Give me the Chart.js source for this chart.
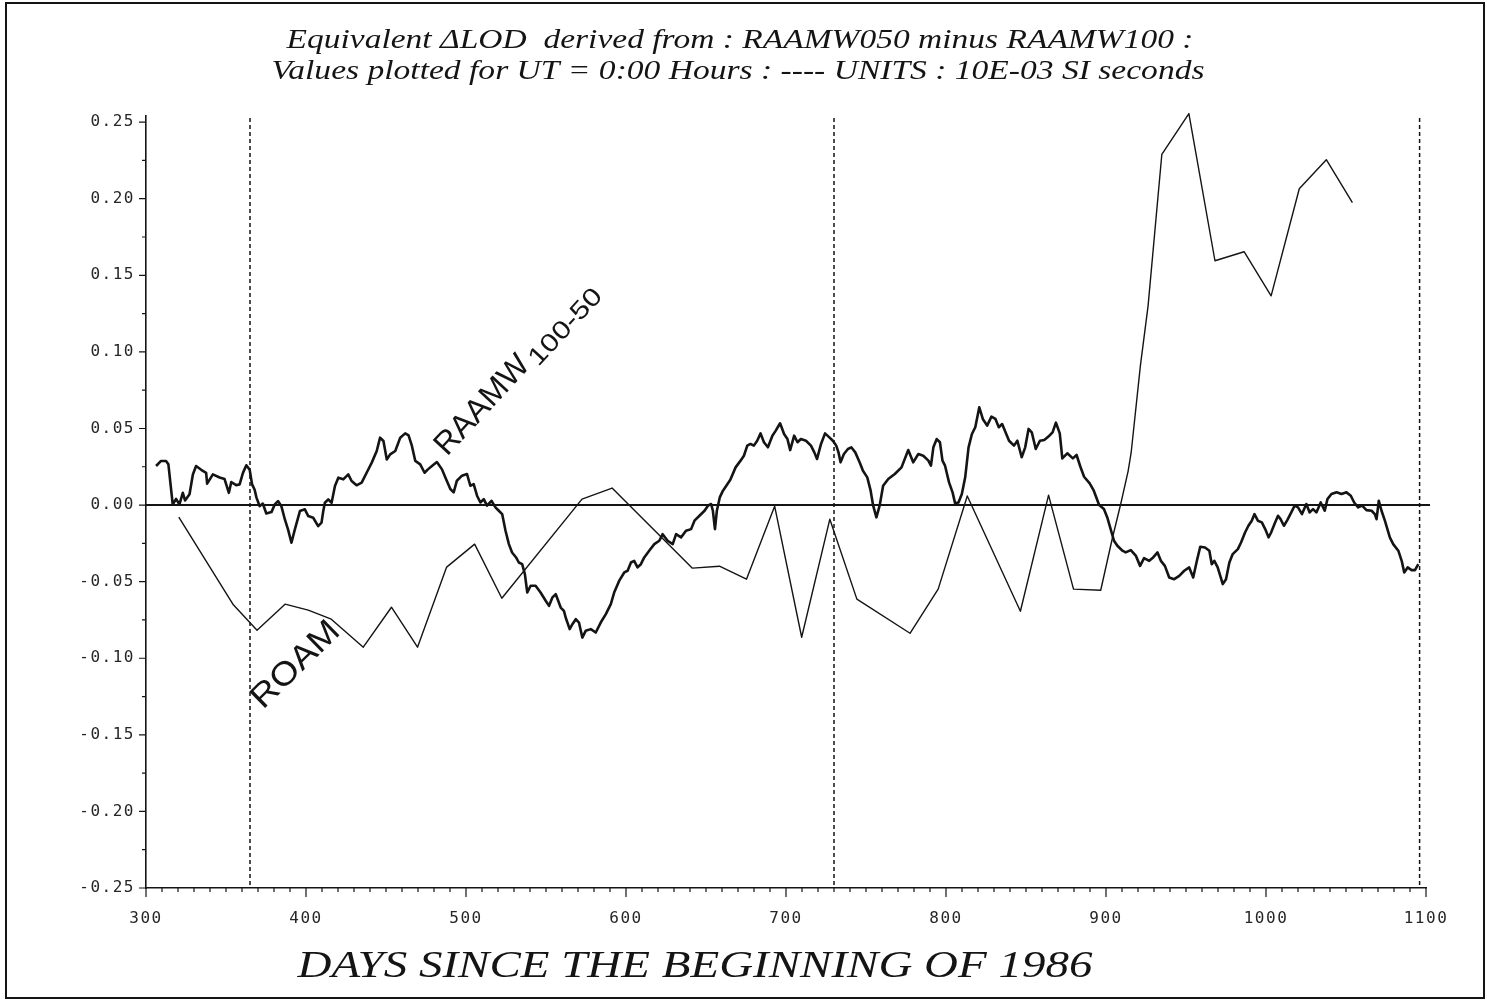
<!DOCTYPE html>
<html>
<head>
<meta charset="utf-8">
<title>Equivalent ΔLOD: RAAMW050 minus RAAMW100</title>
<script src="https://cdn.jsdelivr.net/npm/chart.js@4.4.1/dist/chart.umd.min.js"></script>
<style>
  html, body { margin: 0; padding: 0; background: #ffffff; }
  canvas { display: block; }
</style>
</head>
<body>
<canvas id="c" width="1487" height="1003"></canvas>
<script>
// Days since the beginning of 1986 and equivalent ΔLOD (10E-03 SI seconds), RAAMW100-50 series
const raamwDays = [
  306.3, 309.4, 312.5, 314.0, 316.7, 318.8, 320.9, 323.0, 324.4, 327.2, 329.3, 331.3, 334.5, 337.6, 338.2,
  341.8, 346.0, 349.1, 351.8, 353.3, 356.4, 358.5, 360.6, 362.7, 364.8, 366.3, 367.9, 369.0, 371.0, 373.0,
  375.2, 378.4, 380.5, 382.5, 384.6, 386.8, 388.8, 390.9, 393.0, 396.2, 399.3, 401.4, 404.5, 407.6, 409.7,
  410.8, 411.8, 413.9, 416.0, 418.1, 420.2, 423.3, 426.4, 428.5, 431.6, 434.8, 437.9, 441.1, 444.2, 446.3,
  448.4, 450.5, 452.6, 455.8, 458.9, 462.0, 464.1, 466.2, 468.3, 471.4, 474.1, 476.2, 478.7, 481.8, 485.0,
  487.1, 490.2, 492.3, 494.3, 497.5, 500.6, 502.7, 504.8, 506.9, 509.0, 511.1, 513.1, 515.9, 518.4, 520.5,
  522.6, 524.7, 526.8, 528.8, 531.3, 533.0, 535.1, 536.8, 538.3, 540.4, 543.5, 546.6, 549.8, 551.9, 554.0,
  556.1, 559.2, 561.2, 562.3, 564.8, 566.5, 568.6, 570.6, 572.7, 574.8, 578.0, 581.1, 584.2, 587.4, 590.5,
  592.6, 595.7, 598.9, 601.0, 603.1, 605.1, 607.2, 609.3, 611.4, 614.5, 617.7, 620.8, 622.9, 626.0, 629.2,
  631.3, 634.4, 637.5, 640.7, 642.8, 645.9, 649.1, 651.2, 653.2, 654.3, 655.6, 656.8, 658.6, 660.6, 662.7,
  665.2, 668.5, 671.6, 673.7, 675.8, 677.8, 679.9, 682.0, 684.1, 686.2, 688.7, 691.5, 693.6, 696.3, 698.8,
  700.9, 702.6, 705.1, 707.2, 709.3, 712.5, 715.6, 717.7, 719.4, 721.9, 724.4, 727.1, 729.3, 731.4, 732.8,
  734.1, 736.2, 738.7, 740.8, 743.3, 746.0, 748.1, 750.8, 752.9, 754.4, 756.5, 758.6, 760.7, 763.9, 768.0,
  772.2, 776.4, 779.5, 782.7, 785.8, 789.0, 790.6, 792.1, 794.2, 796.2, 797.8, 799.4, 801.9, 804.1, 805.7,
  807.8, 809.9, 812.0, 814.1, 816.2, 818.3, 820.8, 823.0, 825.7, 828.4, 830.9, 833.0, 835.1, 837.2, 839.4,
  842.5, 844.6, 847.3, 849.5, 851.6, 853.6, 856.1, 858.7, 861.4, 864.6, 866.6, 868.7, 871.1, 872.7, 875.8,
  879.3, 881.6, 884.0, 886.3, 889.8, 892.2, 895.7, 898.7, 900.8, 902.9, 905.0, 907.1, 910.3, 912.3, 915.5,
  918.6, 921.3, 923.8, 927.0, 929.1, 932.2, 934.3, 936.8, 939.5, 942.6, 945.8, 948.9, 952.0, 954.5, 956.8,
  958.9, 961.9, 964.6, 966.1, 967.7, 969.8, 973.0, 975.0, 977.1, 979.2, 982.4, 984.4, 986.9, 989.0, 991.1,
  992.8, 994.9, 997.4, 999.5, 1001.6, 1003.2, 1005.3, 1007.5, 1009.1, 1011.2, 1013.3, 1015.8, 1017.9, 1020.0, 1022.5,
  1025.2, 1027.3, 1029.4, 1031.5, 1034.2, 1036.7, 1038.4, 1040.9, 1044.1, 1047.2, 1050.3, 1053.0, 1055.1, 1057.6, 1060.1,
  1062.8, 1066.0, 1068.0, 1069.1, 1070.5, 1072.2, 1074.3, 1077.4, 1079.5, 1082.7, 1084.8, 1086.4, 1088.5, 1091.0, 1093.1,
  1095.2
];
const raamwValues = [
  0.0255, 0.0288, 0.0288, 0.0266, 0.0004, 0.0040, 0.0004, 0.0080, 0.0030, 0.0070, 0.0200, 0.0255, 0.0230, 0.0210, 0.0140,
  0.0200, 0.0180, 0.0170, 0.0080, 0.0150, 0.0130, 0.0135, 0.0210, 0.0260, 0.0230, 0.0135, 0.0100, 0.0050, -0.0007, 0.0010,
  -0.0055, -0.0046, 0.0004, 0.0026, -0.0007, -0.0094, -0.0160, -0.0246, -0.0160, -0.0039, -0.0028, -0.0072, -0.0083, -0.0137, -0.0115,
  -0.0039, 0.0015, 0.0037, 0.0015, 0.0124, 0.0179, 0.0168, 0.0200, 0.0157, 0.0129, 0.0146, 0.0211, 0.0277, 0.0353, 0.0440,
  0.0418, 0.0298, 0.0331, 0.0353, 0.0440, 0.0468, 0.0455, 0.0386, 0.0288, 0.0266, 0.0211, 0.0233, 0.0255, 0.0281, 0.0233,
  0.0180, 0.0105, 0.0083, 0.0159, 0.0192, 0.0203, 0.0126, 0.0137, 0.0061, 0.0017, 0.0039, -0.0004, 0.0028, -0.0015, -0.0037,
  -0.0059, -0.0168, -0.0255, -0.0310, -0.0342, -0.0375, -0.0386, -0.0451, -0.0571, -0.0527, -0.0527, -0.0571, -0.0625, -0.0658, -0.0603,
  -0.0582, -0.0669, -0.0691, -0.0734, -0.0810, -0.0778, -0.0745, -0.0767, -0.0865, -0.0821, -0.0810, -0.0832, -0.0767, -0.0712, -0.0647,
  -0.0571, -0.0495, -0.0440, -0.0429, -0.0375, -0.0364, -0.0407, -0.0386, -0.0342, -0.0298, -0.0255, -0.0233, -0.0190, -0.0233, -0.0255,
  -0.0190, -0.0211, -0.0168, -0.0157, -0.0102, -0.0070, -0.0037, -0.0004, 0.0007, -0.0037, -0.0157, -0.0037, 0.0050, 0.0094, 0.0126,
  0.0165, 0.0246, 0.0290, 0.0322, 0.0388, 0.0399, 0.0388, 0.0420, 0.0468, 0.0410, 0.0377, 0.0453, 0.0486, 0.0534, 0.0464,
  0.0431, 0.0359, 0.0453, 0.0410, 0.0431, 0.0420, 0.0388, 0.0344, 0.0301, 0.0399, 0.0468, 0.0442, 0.0420, 0.0388, 0.0344,
  0.0279, 0.0333, 0.0366, 0.0377, 0.0344, 0.0279, 0.0224, 0.0181, 0.0094, 0.0000, -0.0080, 0.0000, 0.0126, 0.0170, 0.0203,
  0.0246, 0.0359, 0.0279, 0.0333, 0.0322, 0.0290, 0.0257, 0.0377, 0.0431, 0.0410, 0.0290, 0.0257, 0.0148, 0.0083, 0.0011,
  0.0017, 0.0072, 0.0181, 0.0377, 0.0464, 0.0508, 0.0638, 0.0562, 0.0519, 0.0577, 0.0562, 0.0508, 0.0529, 0.0475, 0.0420,
  0.0388, 0.0420, 0.0312, 0.0377, 0.0497, 0.0475, 0.0366, 0.0420, 0.0425, 0.0453, 0.0475, 0.0538, 0.0468, 0.0305, 0.0338,
  0.0305, 0.0327, 0.0250, 0.0185, 0.0142, 0.0098, 0.0000, -0.0026, -0.0081, -0.0157, -0.0233, -0.0266, -0.0298, -0.0309, -0.0294,
  -0.0330, -0.0397, -0.0346, -0.0364, -0.0346, -0.0309, -0.0364, -0.0397, -0.0473, -0.0484, -0.0462, -0.0429, -0.0407, -0.0473, -0.0364,
  -0.0272, -0.0277, -0.0298, -0.0386, -0.0364, -0.0407, -0.0516, -0.0484, -0.0375, -0.0320, -0.0288, -0.0244, -0.0179, -0.0135, -0.0102,
  -0.0059, -0.0102, -0.0113, -0.0157, -0.0211, -0.0179, -0.0124, -0.0070, -0.0092, -0.0135, -0.0098, -0.0048, -0.0004, -0.0015, -0.0059,
  0.0007, -0.0048, -0.0026, -0.0048, 0.0017, -0.0037, 0.0039, 0.0072, 0.0083, 0.0072, 0.0083, 0.0061, 0.0017, -0.0015, -0.0004,
  -0.0033, -0.0037, -0.0059, -0.0092, 0.0028, -0.0037, -0.0102, -0.0211, -0.0255, -0.0298, -0.0364, -0.0440, -0.0407, -0.0425, -0.0425,
  -0.0386
];

// ROAM series (sparser samples)
const roamDays = [
  320.5, 354.3, 369.4, 386.9, 401.4, 415.8, 435.8, 453.4, 469.7, 487.9, 505.4, 522.4, 572.5, 591.3, 641.5,
  658.4, 675.3, 692.9, 709.8, 727.4, 744.3, 777.5, 795.1, 813.3, 846.5, 864.1, 879.7, 896.7, 903.9, 909.2,
  913.8, 915.7, 921.5, 926.3, 934.9, 951.8, 968.1, 986.3, 1003.2, 1020.8, 1037.7, 1054.0
];
const roamValues = [
  -0.0078, -0.0647, -0.0817, -0.0647, -0.0686, -0.0745, -0.0928, -0.0667, -0.0928, -0.0405, -0.0255, -0.0608, 0.0039, 0.0111, -0.0412,
  -0.0399, -0.0484, -0.0007, -0.0863, -0.0092, -0.0614, -0.0837, -0.0549, 0.0059, -0.0693, 0.0065, -0.0549, -0.0556, -0.0220, 0.0007,
  0.0220, 0.0340, 0.0910, 0.1300, 0.2290, 0.2556, 0.1595, 0.1654, 0.1366, 0.2065, 0.2255, 0.1974
];

// Year boundaries (1 Jan 1987, 1 Jan 1988, 1 Jan 1989)
const yearStartDays = [365, 730, 1096];

// Axis tick values
const xTickValues = [300, 400, 500, 600, 700, 800, 900, 1000, 1100];
const yTickValues = [-0.25, -0.20, -0.15, -0.10, -0.05, 0.00, 0.05, 0.10, 0.15, 0.20, 0.25];

const titleLines = [
  'Equivalent ΔLOD  derived from : RAAMW050 minus RAAMW100 :',
  'Values plotted for UT = 0:00 Hours : ---- UNITS : 10E-03 SI seconds'
];
const xAxisTitle = 'DAYS SINCE THE BEGINNING OF 1986';

const INK = '#141414';

function toPoints(xs, ys) {
  return xs.map((x, i) => ({ x: x, y: ys[i] }));
}

// Draws text horizontally stretched to a given width
function drawFitted(ctx, text, x, y, font, width, align) {
  ctx.font = font;
  const w = ctx.measureText(text).width;
  ctx.save();
  ctx.translate(x, y);
  ctx.scale(width / w, 1);
  ctx.textAlign = align || 'center';
  ctx.textBaseline = 'alphabetic';
  ctx.fillText(text, 0, 0);
  ctx.restore();
}

const decorations = {
  id: 'decorations',
  beforeDraw(chart) {
    const ctx = chart.ctx;
    ctx.save();
    ctx.fillStyle = '#ffffff';
    ctx.fillRect(0, 0, chart.width, chart.height);
    ctx.restore();
    ctx.letterSpacing = '1.5px';
  },
  beforeDatasetsDraw(chart) {
    const ctx = chart.ctx;
    const xs = chart.scales.x, ys = chart.scales.y;
    const area = chart.chartArea;
    ctx.save();
    ctx.strokeStyle = INK;

    // dashed year boundaries
    ctx.lineWidth = 1.5;
    ctx.setLineDash([4, 3]);
    yearStartDays.forEach(d => {
      const px = xs.getPixelForValue(d);
      ctx.beginPath();
      ctx.moveTo(px, area.top + 2);
      ctx.lineTo(px, area.bottom);
      ctx.stroke();
    });
    ctx.setLineDash([]);

    // zero line
    const y0 = ys.getPixelForValue(0);
    ctx.lineWidth = 2;
    ctx.beginPath();
    ctx.moveTo(area.left, y0);
    ctx.lineTo(area.right + 4, y0);
    ctx.stroke();

    // tick marks on the x axis (every 10 days, longer each 100)
    ctx.lineWidth = 1.2;
    ctx.beginPath();
    for (let d = xs.min; d <= xs.max + 0.001; d += 10) {
      const px = xs.getPixelForValue(d);
      const major = Math.abs(d % 100) < 0.001;
      ctx.moveTo(px, area.bottom);
      ctx.lineTo(px, area.bottom + (major ? 9 : 4));
    }
    // tick marks on the y axis (every 0.025, longer each 0.05)
    for (let k = -10; k <= 10; k++) {
      const v = k * 0.025;
      const py = ys.getPixelForValue(v);
      const major = k % 2 === 0;
      ctx.moveTo(area.left, py);
      ctx.lineTo(area.left - (major ? 7 : 4), py);
    }
    ctx.stroke();
    ctx.restore();
  },
  afterDraw(chart) {
    const ctx = chart.ctx;
    const xs = chart.scales.x, ys = chart.scales.y;
    ctx.save();
    ctx.letterSpacing = '0px';
    ctx.fillStyle = INK;

    // heading
    drawFitted(ctx, titleLines[0], 740, 48, 'italic 28px "Liberation Serif"', 907);
    drawFitted(ctx, titleLines[1], 738, 79, 'italic 28px "Liberation Serif"', 933);

    // axis title
    drawFitted(ctx, xAxisTitle, 695, 977, 'italic 38px "Liberation Serif"', 795);

    // series labels written along the curves
    let px = xs.getPixelForValue(488.1), py = ys.getPixelForValue(0.0313);
    ctx.save();
    ctx.translate(px, py);
    ctx.rotate(-47.2 * Math.PI / 180);
    drawFitted(ctx, 'RAAMW', 0, 0, '32px "Liberation Sans"', 124, 'left');
    drawFitted(ctx, '100-50', 128, 6, '25px "Liberation Sans"', 96, 'left');
    ctx.restore();

    px = xs.getPixelForValue(373.1); py = ys.getPixelForValue(-0.1338);
    ctx.save();
    ctx.translate(px, py);
    ctx.rotate(-44.4 * Math.PI / 180);
    drawFitted(ctx, 'ROAM', 0, 0, '33px "Liberation Sans"', 110, 'left');
    ctx.restore();

    // outer frame
    ctx.strokeStyle = INK;
    ctx.lineWidth = 2;
    ctx.strokeRect(6, 3, 1478, 995);
    ctx.restore();
  }
};

const chart = new Chart(document.getElementById('c'), {
  type: 'line',
  data: {
    datasets: [
      {
        label: 'RAAMW100-50',
        data: toPoints(raamwDays, raamwValues),
        borderColor: INK,
        borderWidth: 2.6,
        borderJoinStyle: 'round',
        pointRadius: 0,
        tension: 0,
        fill: false
      },
      {
        label: 'ROAM',
        data: toPoints(roamDays, roamValues),
        borderColor: INK,
        borderWidth: 1.4,
        borderJoinStyle: 'round',
        pointRadius: 0,
        tension: 0,
        fill: false,
        clip: false
      }
    ]
  },
  options: {
    responsive: false,
    animation: false,
    devicePixelRatio: 1,
    layout: { padding: { left: 0, right: 61, top: 116, bottom: 0 } },
    plugins: {
      legend: { display: false },
      title: { display: false },
      tooltip: { enabled: false }
    },
    scales: {
      x: {
        type: 'linear',
        min: 300,
        max: 1100,
        afterBuildTicks(scale) { scale.ticks = xTickValues.map(v => ({ value: v })); },
        afterFit(scale) { scale.height = 115; },
        grid: { display: false, drawTicks: false },
        border: { display: true, color: INK, width: 1.6 },
        ticks: {
          autoSkip: false,
          maxRotation: 0,
          padding: 21,
          color: '#262626',
          font: { family: '"DejaVu Sans Mono"', size: 16 },
          callback: v => String(v)
        }
      },
      y: {
        type: 'linear',
        min: -0.25,
        max: 0.254,
        afterBuildTicks(scale) { scale.ticks = yTickValues.map(v => ({ value: v })); },
        afterFit(scale) { scale.width = 146; },
        grid: { display: false, drawTicks: false },
        border: { display: true, color: INK, width: 1.6 },
        ticks: {
          padding: 11,
          color: '#262626',
          font: { family: '"DejaVu Sans Mono"', size: 16 },
          callback: v => Number(v).toFixed(2)
        }
      }
    }
  },
  plugins: [decorations]
});
</script>
</body>
</html>
